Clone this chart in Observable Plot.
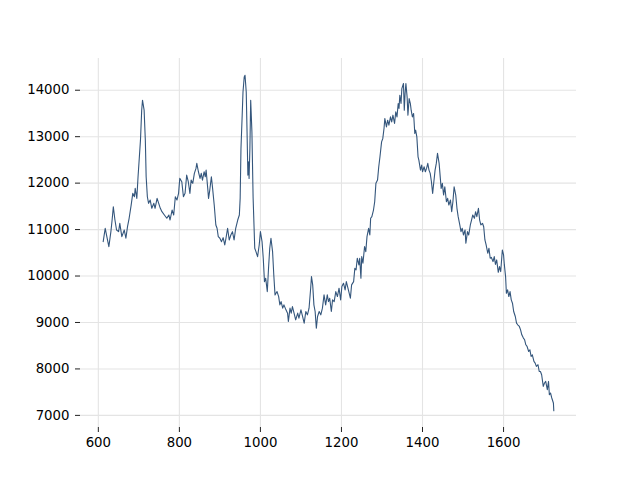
<!DOCTYPE html>
<html>
<head>
<meta charset="utf-8">
<script src="https://cdn.jsdelivr.net/npm/d3@7"></script>
<script src="https://cdn.jsdelivr.net/npm/@observablehq/plot@0.6"></script>
<style>
  html, body { margin: 0; padding: 0; background: #fff; }
</style>
</head>
<body>
<div id="chart"></div>
<script>
// Wavenumber (x) and intensity (y)
const wavenumber = [
  612,617,621,626,631,634,637,641,645,650,653,658,664,668,672,676,681,685,689,691,695,698,701,704,707,709,713,716,718,721,724,728,732,737,740,745,749,753,757,763,769,774,777,782,786,790,794,798,801,
  806,810,814,818,822,826,829,833,837,841,843,847,851,854,857,861,864,866,870,872,875,879,882,886,890,893,896,900,904,908,912,915,919,923,927,931,935,939,944,948,950,952,955,957,960,962,965,967,969,971,972,974,976,979,982,986,989,993,997,1000,
  1004,1007,1010,1013,1017,1020,1023,1026,1030,1033,1036,1041,1045,1048,1051,1055,1058,1063,1067,1069,1073,1076,1079,1083,1087,1092,1095,1100,1104,1108,1112,1116,1120,1124,1126,1129,1132,1135,1138,1141,1145,1149,1153,1157,1161,1165,1168,1171,1175,1178,1182,1186,1190,1194,1198,
  1201,1205,1209,1212,1216,1219,1222,1225,1230,1233,1236,1239,1243,1245,1248,1250,1253,1257,1260,1263,1267,1270,1272,1275,1279,1282,1285,1289,1292,1295,1299,1302,1305,1307,1311,1314,1317,1321,1324,1327,1331,1334,1337,1340,1342,1344,1347,1349,1353,1355,1357,1359,1362,1364,1367,1370,1372,1375,1378,1381,1383,1386,1389,1391,1395,1398,
  1400,1404,1407,1410,1413,1416,1419,1422,1425,1428,1431,1434,1437,1441,1444,1446,1449,1452,1455,1459,1462,1465,1469,1472,1475,1478,1482,1485,1488,1492,1495,1498,1501,1505,1507,1511,1514,1518,1521,1524,1528,1531,1534,1538,1541,1544,1548,1551,1554,1557,1561,1564,1567,1570,1574,1577,1580,1583,1587,1590,1593,1597,
  1600,1602,1605,1607,1610,1613,1616,1619,1622,1625,1629,1632,1635,1639,1642,1645,1649,1652,1655,1658,1662,1665,1668,1671,1675,1678,1681,1685,1688,1691,1694,1698,1701,1704,1708,1711,1713,1716,1719,1723,1724
];
const intensity = [
  10740,11028,10848,10633,10955,11206,11492,11206,10991,10955,11135,10848,10991,10813,11062,11243,11528,11780,11707,11887,11672,12137,12532,12925,13570,13785,13570,12925,12137,11707,11565,11636,11458,11565,11458,11672,11565,11458,11385,11314,11243,11314,11206,11421,11314,11707,11636,11780,12102,
  12030,11707,11780,12173,12030,11780,12065,11995,12210,12317,12425,12245,12102,12210,12065,12245,12137,12281,11887,11672,11851,12137,11887,11528,11099,11028,10848,10813,10740,10826,10669,10813,11028,10776,10884,10955,10776,11028,11206,11314,11672,12747,13463,13963,14286,14322,13963,13104,12173,12459,12102,12747,13785,13104,11672,10598,10525,10418,10669,10955,
  10740,10383,9880,9953,9665,10168,10598,10813,10525,10024,9594,9665,9558,9379,9450,9308,9379,9272,9201,9021,9308,9201,9343,9201,9057,9201,9093,9272,9129,8986,9236,9164,9308,9738,9988,9809,9379,9236,8879,9129,9236,9164,9308,9594,9379,9594,9450,9522,9236,9487,9450,9665,9558,9738,9487,
  9773,9845,9702,9880,9738,9630,9522,9809,9880,10168,10132,10383,10239,10383,9953,10418,10275,10633,10525,10848,11028,10884,11243,11278,11421,11600,11995,12065,12352,12567,12889,12962,13177,13392,13211,13355,13248,13427,13319,13463,13284,13534,13427,13714,13607,13893,13714,14036,14144,13570,13929,14144,13857,13463,13821,13714,13570,13427,13499,13069,13140,12996,12567,12496,12281,12388,
  12245,12352,12245,12317,12425,12281,12210,12030,11780,12030,12281,12425,12640,12425,12102,11887,11995,11743,11922,11600,11672,11528,11636,11385,11600,11922,11743,11458,11278,11099,10955,11028,10884,10991,10705,10955,10884,11099,11206,11314,11243,11385,11278,11458,11206,11099,11135,11062,10776,10669,10490,10598,10383,10400,10311,10418,10250,10347,10080,10203,10096,10561,
  10454,10239,9988,9630,9702,9558,9665,9487,9415,9236,9129,8986,8950,8914,8842,8735,8664,8627,8520,8484,8376,8412,8268,8305,8161,8126,8054,8090,7946,7946,7875,7623,7697,7731,7553,7731,7445,7481,7374,7266,7100
];
const xTicks = [600, 800, 1000, 1200, 1400, 1600];
const yTicks = [7000, 8000, 9000, 10000, 11000, 12000, 13000, 14000];

const data = wavenumber.map((x, i) => ({x, y: intensity[i]}));

const chart = Plot.plot({
  width: 640,
  height: 480,
  marginLeft: 80,
  marginRight: 64,
  marginTop: 58,
  marginBottom: 53,
  style: {fontFamily: "DejaVu Sans", fontSize: "13.3px", color: "#000", background: "#fff"},
  x: {domain: [556, 1780], label: null},
  y: {domain: [6739, 14683], label: null},
  marks: [
    Plot.gridX(xTicks, {stroke: "#e4e4e4", strokeOpacity: 1, strokeWidth: 1.1}),
    Plot.gridY(yTicks, {stroke: "#e4e4e4", strokeOpacity: 1, strokeWidth: 1.1}),
    Plot.axisX(xTicks, {tickSize: 5, tickPadding: 5, tickFormat: d => String(d), label: null, stroke: "#222", strokeWidth: 1}),
    Plot.axisY(yTicks, {tickSize: 5, tickPadding: 6, tickFormat: d => String(d), label: null, stroke: "#222", strokeWidth: 1}),
    Plot.line(data, {x: "x", y: "y", stroke: "#34567c", strokeWidth: 1.1})
  ]
});
document.getElementById("chart").appendChild(chart);
</script>
</body>
</html>
